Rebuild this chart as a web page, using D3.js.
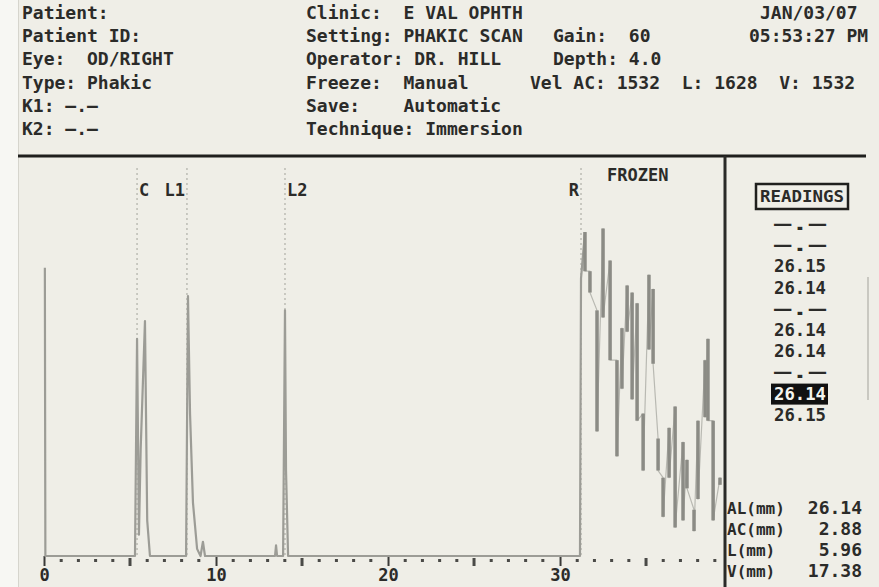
<!DOCTYPE html>
<html>
<head>
<meta charset="utf-8">
<script src="https://cdn.jsdelivr.net/npm/d3@7"></script>
<style>
  body { margin: 0; background: #efeee7; }
  svg { display: block; }
  text { font-family: 'DejaVu Sans Mono', monospace; font-weight: bold; fill: #2b2b29; white-space: pre; }
</style>
</head>
<body>
<svg id="chart"></svg>
<script>
// header block
const headerLeft = ['Patient:', 'Patient ID:', 'Eye:  OD/RIGHT', 'Type: Phakic', 'K1: —.—', 'K2: —.—'];
const headerMid = ['Clinic:  E VAL OPHTH', 'Setting: PHAKIC SCAN', 'Operator: DR. HILL', 'Freeze:  Manual', 'Save:    Automatic', 'Technique: Immersion'];
const headerDate = ['JAN/03/07', '05:53:27 PM'];
const settingLabels = ['Gain:', 'Depth:'];
const settingValues = ['60', '4.0'];
const velocityLabels = ['Vel AC:', 'L:', 'V:'];
const velocityValues = [1532, 1628, 1532];

// a-scan, depth in mm / amplitude in % of screen
const majorTicks = [0, 10, 20, 30];
const gateNames = ['C', 'L1', 'L2', 'R'];
const gateMm = [5.41, 8.31, 14.01, 31.22];
const traceMm = [0.05, 0.08, 5.29, 5.41, 5.52, 5.62, 5.87, 6.0, 6.16, 8.26, 8.37, 8.49, 8.66, 8.9, 9.1, 9.24, 9.36,
                 13.43, 13.49, 13.55, 13.9, 14.01, 14.07, 14.19, 31.16, 31.22, 31.45];
const traceAmp = [81, 0, 0, 61, 6, 30, 66, 10, 0, 0, 73, 40, 15, 2, 0, 4, 0,
                  0, 3, 0, 0, 69, 24, 0, 0, 78, 91];
const echoMm = [31.45, 31.74, 32.15, 32.5, 32.91, 33.31, 33.6, 33.9, 34.19, 34.48, 34.83, 35.17, 35.41,
                35.7, 35.99, 36.34, 36.69, 37.15, 37.38, 37.79, 38.02, 38.43, 38.6, 38.9, 39.3];
const echoHi = [91, 80, 69, 92, 83, 55, 64, 76, 74, 71, 40, 79, 75, 33, 22, 36, 42, 32, 27, 13, 38, 55, 61, 38, 22];
const echoLo = [80, 74, 35, 67, 55, 28, 47, 63, 44, 38, 24, 58, 54, 24, 11, 22, 8, 10, 19, 7, 16, 39, 38, 10, 20];

// readings panel
const readings = ['—.—', '—.—', '26.15', '26.14', '—.—', '26.14', '26.14', '—.—', '26.14', '26.15'];
const selectedReading = 8;
const resultLabels = ['AL(mm)', 'AC(mm)', 'L(mm)', 'V(mm)'];
const resultValues = [26.14, 2.88, 5.96, 17.38];

const width = 879;
const height = 587;
const svg = d3.select('#chart').attr('width', width).attr('height', height);

svg.append('rect').attr('width', width).attr('height', height).attr('fill', '#efeee7');
svg.append('rect').attr('width', 18).attr('height', height).attr('fill', '#f7f7f3');
svg.append('line').attr('x1', 18.5).attr('x2', 18.5).attr('y1', 0).attr('y2', height)
    .attr('stroke', '#d6d5cd').attr('stroke-width', 1);

// header text
const fs = 18;
const rowY = d => 19 + d * 23.2;
svg.append('g').selectAll('text').data(headerLeft).join('text')
    .attr('x', 22).attr('y', (d, i) => rowY(i)).style('font-size', fs + 'px').text(d => d);
svg.append('g').selectAll('text').data(headerMid).join('text')
    .attr('x', 306).attr('y', (d, i) => rowY(i)).style('font-size', fs + 'px').text(d => d);
svg.append('g').selectAll('text').data(headerDate).join('text')
    .attr('x', (d, i) => i ? 749 : 760).attr('y', (d, i) => rowY(i)).style('font-size', fs + 'px').text(d => d);
svg.append('g').selectAll('text').data(settingLabels).join('text')
    .attr('x', 553).attr('y', (d, i) => rowY(i + 1)).style('font-size', fs + 'px')
    .text((d, i) => d.padEnd(7) + settingValues[i]);
svg.append('text').attr('x', 530).attr('y', rowY(3)).style('font-size', fs + 'px')
    .text(velocityLabels.map((d, i) => d + ' ' + velocityValues[i]).join('  '));

// frame lines
svg.append('line').attr('x1', 18).attr('x2', 866).attr('y1', 156).attr('y2', 156)
    .attr('stroke', '#1f1f1d').attr('stroke-width', 3);
svg.append('line').attr('x1', 725).attr('x2', 725).attr('y1', 156).attr('y2', height)
    .attr('stroke', '#2a2a28').attr('stroke-width', 3);
svg.append('line').attr('x1', 868).attr('x2', 868).attr('y1', 277).attr('y2', 400)
    .attr('stroke', '#c9c8c1').attr('stroke-width', 2);

// scales
const x = d3.scaleLinear().domain([0, 39.3]).range([44, 720]);
const y = d3.scaleLinear().domain([0, 100]).range([556, 200]);
const base = y(0);

// gate markers
const gates = svg.append('g');
gates.selectAll('line').data(gateMm).join('line')
    .attr('x1', d => x(d)).attr('x2', d => x(d)).attr('y1', 168).attr('y2', base)
    .attr('stroke', '#bcbcb4').attr('stroke-width', 1.5).attr('stroke-dasharray', '2,3');
gates.selectAll('text').data(gateNames).join('text')
    .attr('x', (d, i) => x(gateMm[i]) + (i % 2 === 0 ? 2 : -2))
    .attr('text-anchor', (d, i) => i % 2 === 0 ? 'start' : 'end')
    .attr('y', 196).style('font-size', '17px').text(d => d);
svg.append('text').attr('x', 607).attr('y', 181).style('font-size', '17px').text('FROZEN');

// axis
const axis = svg.append('g').attr('transform', `translate(0,${base})`)
    .call(d3.axisBottom(x).tickValues(majorTicks).tickSize(10).tickPadding(3));
axis.select('.domain').remove();
axis.selectAll('.tick line').attr('stroke', '#3a3a38').attr('stroke-width', 2);
axis.selectAll('.tick text').style('font-size', '17px').attr('fill', '#2b2b29');
const minor = d3.range(1, 40).filter(d => d % 10 !== 0);
svg.append('g').selectAll('rect').data(minor).join('rect')
    .attr('x', d => x(d) - 1.5).attr('y', d => d % 5 === 0 ? base + 2 : base + 3)
    .attr('width', 3).attr('height', d => d % 5 === 0 ? 8 : 3)
    .attr('fill', '#4a4a47');

// trace
const line = d3.line().x(d => x(d[0])).y(d => y(d[1]));
const spikes = traceMm.map((d, i) => [d, traceAmp[i]]);
svg.append('path').datum(spikes).attr('d', line)
    .attr('fill', 'none').attr('stroke', '#9c9c96').attr('stroke-width', 2.2)
    .attr('stroke-linejoin', 'round');
const zig = [];
echoMm.forEach((d, i) => { zig.push([d, echoHi[i]]); zig.push([d, echoLo[i]]); });
svg.append('path').datum(zig).attr('d', line)
    .attr('fill', 'none').attr('stroke', '#b9b9b2').attr('stroke-width', 1.2)
    .attr('stroke-linejoin', 'round');
svg.append('g').selectAll('line').data(echoMm).join('line')
    .attr('x1', d => x(d)).attr('x2', d => x(d))
    .attr('y1', (d, i) => y(echoHi[i])).attr('y2', (d, i) => y(echoLo[i]))
    .attr('stroke', '#8b8b85').attr('stroke-width', 3.5);

// readings
const rx = 802;
svg.append('rect').attr('x', 756).attr('y', 184).attr('width', 92).attr('height', 25)
    .attr('fill', 'none').attr('stroke', '#1f1f1d').attr('stroke-width', 2.5);
svg.append('text').attr('x', 760).attr('y', 202)
    .attr('textLength', 84).attr('lengthAdjust', 'spacingAndGlyphs')
    .style('font-size', '16px').text('READINGS');
const ry = i => 224 + i * 21.2;
svg.append('rect').attr('x', 771).attr('y', ry(selectedReading) - 10).attr('width', 57).attr('height', 21)
    .attr('fill', '#111');
svg.append('g').selectAll('text').data(readings).join('text')
    .attr('x', 774).attr('y', (d, i) => ry(i) + 6)
    .attr('textLength', 52).attr('lengthAdjust', 'spacingAndGlyphs')
    .style('font-size', fs + 'px')
    .style('fill', (d, i) => i === selectedReading ? '#f4f4ee' : null)
    .text(d => d);

// results
const resY = i => 514 + i * 21;
svg.append('g').selectAll('text').data(resultLabels).join('text')
    .attr('x', 727).attr('y', (d, i) => resY(i)).style('font-size', '16px').text(d => d);
svg.append('g').selectAll('text').data(resultValues).join('text')
    .attr('x', 862).attr('y', (d, i) => resY(i)).attr('text-anchor', 'end')
    .style('font-size', fs + 'px').text(d => d.toFixed(2));
</script>
</body>
</html>
